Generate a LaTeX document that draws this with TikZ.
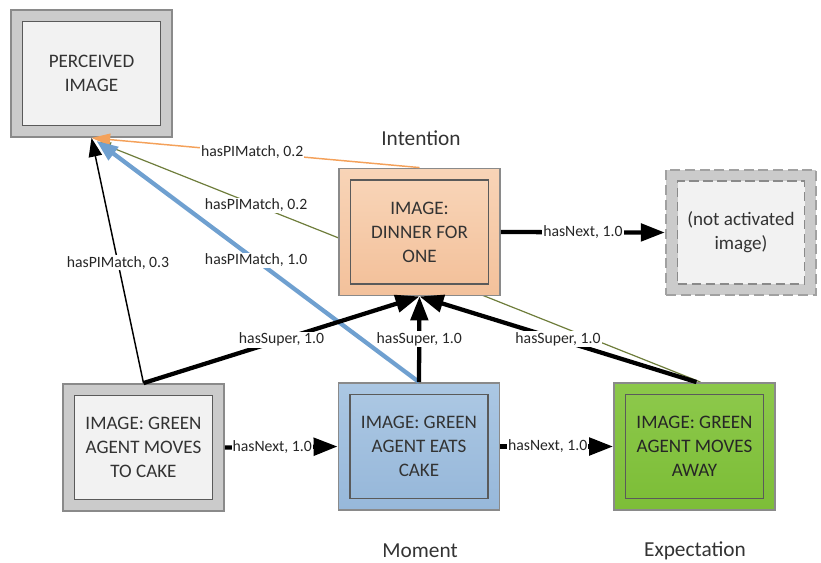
\documentclass[tikz,border=0pt]{standalone}
\usepackage{fontspec}
\setmainfont{Carlito}
\usetikzlibrary{arrows.meta,calc}

\definecolor{txt}{HTML}{333333}
\definecolor{grayout}{HTML}{CBCBCB}
\definecolor{grayedge}{HTML}{8A8A8A}
\definecolor{grayin}{HTML}{F2F2F2}
\definecolor{inedge}{HTML}{5A5A5A}
\definecolor{peachtop}{HTML}{F8D4B7}
\definecolor{peachbot}{HTML}{F3C19B}
\definecolor{bluetop}{HTML}{ABC7E3}
\definecolor{bluebot}{HTML}{97B8DA}
\definecolor{greentop}{HTML}{8CC84A}
\definecolor{greenbot}{HTML}{7DBE38}
\definecolor{orangeline}{HTML}{F4A15A}
\definecolor{oliveline}{HTML}{6E7D3B}
\definecolor{blueline}{HTML}{6FA0D0}

\pgfdeclarelayer{background}
\pgfsetlayers{background,main}

\tikzset{
  outerbox/.style={draw=grayedge, line width=1.4pt, minimum width=161*0.75pt,
    minimum height=127*0.75pt, inner sep=0pt},
  innerbox/.style={draw=inedge, line width=0.9pt, minimum width=138*0.75pt,
    minimum height=104*0.75pt, inner sep=0pt, align=center, text=txt,
    font=\fontsize{14.3}{18}\selectfont},
  title/.style={font=\fontsize{16}{19}\selectfont, text=txt},
  lbl/.style={font=\fontsize{11.8}{13}\selectfont, text=black!85, fill=white,
    inner sep=0.8pt},
  thickarrow/.style={line width=3.2pt, -{Triangle[length=18pt,width=13pt]}},
  thinarrow/.style={line width=1.1pt, -{Triangle[length=14pt,width=10pt]}},
  orangearrow/.style={draw=orangeline, line width=1.1pt,
    -{Triangle[length=14pt,width=9pt]}, orangeline},
  olivearrow/.style={draw=oliveline, line width=0.9pt,
    -{Triangle[length=10pt,width=7pt]}, oliveline},
  bluearrow/.style={draw=blueline, line width=3.2pt,
    -{Triangle[length=16pt,width=12pt]}, blueline},
}

\begin{document}
\begin{tikzpicture}[x=0.75pt,y=-0.75pt]
\useasboundingbox (0,0) rectangle (821,562);

% perceived image
\node[outerbox, fill=grayout] (pi) at (91.5,73.5) {};
\node[innerbox, fill=grayin] (pi-in) at (pi) {PERCEIVED\\IMAGE};

% intention
\node[outerbox, top color=peachtop, bottom color=peachbot] (int) at (419.5,232) {};
\node[innerbox, top color=peachtop, bottom color=peachbot] (int-in) at (int) {IMAGE:\\DINNER FOR\\ONE};
\node[title] (t-int) at (421,138) {Intention};

% not activated image
\node[outerbox, fill=grayout, draw=grayedge!80, dash pattern=on 7.5pt off 3.5pt,
  minimum width=150*0.75pt, minimum height=125*0.75pt, line width=1.8pt] (na) at (741,232.5) {};
\node[innerbox, fill=grayin, draw=grayedge, dash pattern=on 7pt off 3.5pt,
  minimum width=127*0.75pt, minimum height=103*0.75pt] (na-in) at (na) {(not activated\\image)};

% moment chain
\node[outerbox, fill=grayout] (cake) at (143.5,447.5) {};
\node[innerbox, fill=grayin] (cake-in) at (cake) {IMAGE: GREEN\\AGENT MOVES\\TO CAKE};

\node[outerbox, top color=bluetop, bottom color=bluebot] (eats) at (419,446.5) {};
\node[innerbox, top color=bluetop, bottom color=bluebot] (eats-in) at (eats) {IMAGE: GREEN\\AGENT EATS\\CAKE};
\node[title] (t-mom) at (420,551) {Moment};

\node[outerbox, top color=greentop, bottom color=greenbot] (away) at (694.5,446.5) {};
\node[innerbox, top color=greentop, bottom color=greenbot, text=black!85] (away-in) at (away) {IMAGE: GREEN\\AGENT MOVES\\AWAY};
\node[title] (t-exp) at (695,551) {Expectation};

% match links to the perceived image
\begin{pgfonlayer}{background}
\draw[olivearrow] ($(away.north)+(6,0)$) -- node[lbl,pos=0.737]{hasPIMatch, 0.2} ($(pi.south)+(6,4)$);
\end{pgfonlayer}
\draw[orangearrow] (int.north) -- node[lbl,pos=0.51]{hasPIMatch, 0.2} (pi.south);
\draw[thinarrow] (cake.north) -- node[lbl,pos=0.49]{hasPIMatch, 0.3} (pi.south);
\draw[bluearrow] (eats.north) -- node[lbl,pos=0.505]{hasPIMatch, 1.0} ($(pi.south)+(5,3)$);

% super links
\draw[thickarrow] (cake.north) -- node[lbl,pos=0.5]{hasSuper, 1.0} (int.south);
\draw[thickarrow] (eats.north) -- node[lbl,pos=0.5]{hasSuper, 1.0} (int.south);
\draw[thickarrow] ($(away.north)+(2,0)$) -- node[lbl,pos=0.5]{hasSuper, 1.0} (int.south);

% next links
\draw[thickarrow] (int.east) -- node[lbl]{hasNext, 1.0} (na.west);
\draw[thickarrow] (cake.east) -- node[lbl,pos=0.42]{hasNext, 1.0} (eats.west);
\draw[thickarrow] (eats.east) -- node[lbl,pos=0.42]{hasNext, 1.0} (away.west);
\end{tikzpicture}
\end{document}
